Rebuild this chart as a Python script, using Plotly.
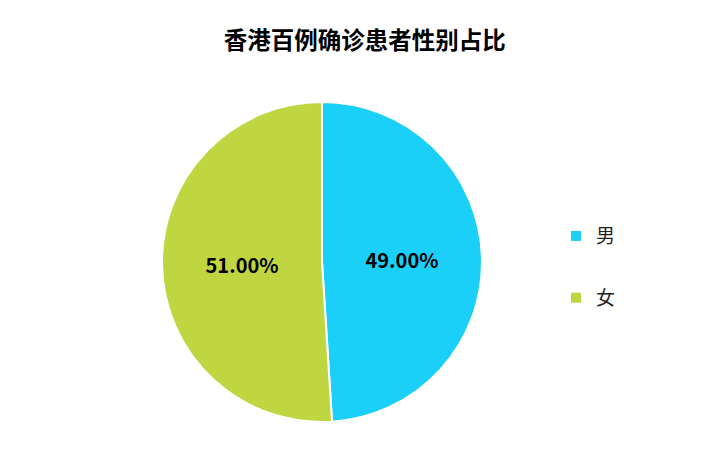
import plotly.graph_objects as go

title = "香港百例确诊患者性别占比"
labels = ["男", "女"]
values = [49, 51]
colors = ["#1ACFF8", "#BFD641"]

fig = go.Figure()
fig.add_trace(go.Pie(
    labels=labels,
    values=values,
    sort=False,
    direction="clockwise",
    rotation=0,
    marker=dict(colors=colors, line=dict(color="white", width=2)),
    texttemplate="%{percent:.2%}",
    textposition="inside",
    insidetextorientation="horizontal",
    textfont=dict(family="Noto Sans CJK SC", size=20, color="black", weight="bold"),
    domain=dict(x=[0.2175, 0.6695], y=[0.1116, 0.7982]),
    hoverinfo="label+percent",
    showlegend=False,
))

# legend entries as square markers so the gap between them can be set
for lab, col in zip(labels, colors):
    fig.add_trace(go.Scatter(
        x=[None], y=[None], mode="markers", name=lab,
        marker=dict(symbol="square", size=10, color=col),
        legendgroup=lab, showlegend=True,
    ))

fig.update_layout(
    width=708, height=466,
    margin=dict(l=0, r=0, t=0, b=0),
    paper_bgcolor="white",
    plot_bgcolor="white",
    font=dict(family="Noto Sans CJK SC"),
    title=dict(text="<b>" + title + "</b>", x=0.504, xanchor="center", y=0.93, yanchor="middle",
               font=dict(size=23.5, color="black")),
    legend=dict(x=0.774, y=0.444, xanchor="left", yanchor="middle",
                font=dict(size=19, color="#222222"), tracegroupgap=34,
                itemwidth=30),
    xaxis=dict(visible=False),
    yaxis=dict(visible=False),
)

fig.write_html("out.html")
